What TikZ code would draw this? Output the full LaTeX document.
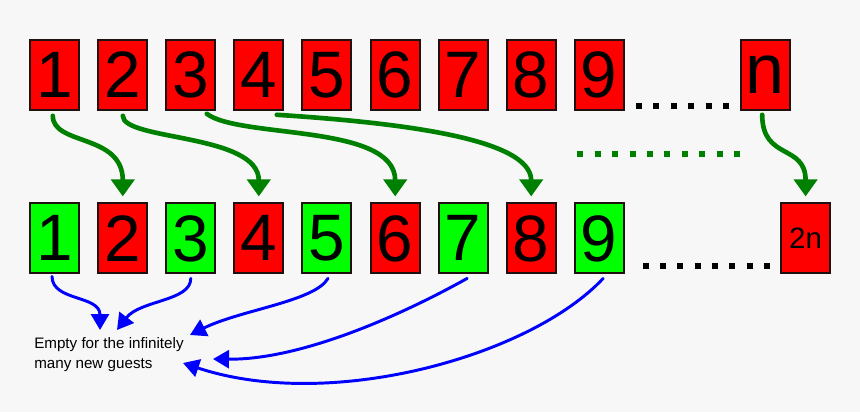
\documentclass[tikz,border=0pt]{standalone}
\usepackage{fontspec}
\setmainfont{Liberation Sans}
\usetikzlibrary{arrows.meta}

\definecolor{hintergrund}{HTML}{F7F7F7}
\definecolor{rot}{HTML}{FF0000}
\definecolor{hellgruen}{HTML}{00FF00}
\definecolor{dunkelgruen}{HTML}{008000}
\definecolor{blau}{HTML}{0000FF}
\definecolor{rand}{HTML}{201010}

\tikzset{
	zimmer/.style={draw=rand, line width=1.4pt, minimum width=1.225cm, minimum height=1.75cm, inner sep=0pt, font=\fontsize{46.7}{46.7}\selectfont},
	belegt/.style={zimmer, fill=rot},
	frei/.style={zimmer, fill=hellgruen},
	umzug/.style={dunkelgruen, line width=3.3pt, line cap=round, -{Triangle[width=0.575cm,length=0.425cm]}},
	neugast/.style={blau, line width=2.1pt, line cap=round, -{Triangle[width=0.45cm,length=0.4cm]}},
	punkte/.style={line width=0.15cm, dash pattern=on 0.15cm off 0.285cm}
}

\begin{document}
\begin{tikzpicture}
			%\draw [lightgray](0,0) grid (21,10);
			
			% Zeichnet den Hintergrund
			\fill[hintergrund] (0,0) rectangle (21.5,10.3);
			\useasboundingbox (0,0) rectangle (21.5,10.3);
			
			% Zeichnet die obere Reihe (alle Zimmer belegt)
			\node[belegt] (o1) at (1.36,8.43) {1};
			\node[belegt] (o2) at (3.07,8.43) {2};
			\node[belegt] (o3) at (4.77,8.43) {3};
			\node[belegt] (o4) at (6.47,8.43) {4};
			\node[belegt] (o5) at (8.17,8.43) {5};
			\node[belegt] (o6) at (9.88,8.43) {6};
			\node[belegt] (o7) at (11.58,8.43) {7};
			\node[belegt] (o8) at (13.28,8.43) {8};
			\node[belegt] (o9) at (14.98,8.43) {9};
			\node[belegt][font=\fontsize{49.8}{49.8}\selectfont] (on) at (19.13,8.43) {n};
			
			% Zeichnet die untere Reihe (ungerade Zimmer frei)
			\node[frei] (u1) at (1.36,4.34) {1};
			\node[belegt] (u2) at (3.07,4.34) {2};
			\node[frei] (u3) at (4.77,4.34) {3};
			\node[belegt] (u4) at (6.47,4.34) {4};
			\node[frei] (u5) at (8.17,4.34) {5};
			\node[belegt] (u6) at (9.88,4.34) {6};
			\node[frei] (u7) at (11.58,4.34) {7};
			\node[belegt] (u8) at (13.28,4.34) {8};
			\node[frei] (u9) at (14.98,4.34) {9};
			\node[belegt][font=\fontsize{21}{21}\selectfont] (u2n) at (20.14,4.34) {2n};
			
			% Zeichnet die Punkte zwischen den Zimmern
			\draw[punkte] (15.9,7.66) -- (18.23,7.66);
			\draw[punkte][dunkelgruen][dash pattern=on 0.15cm off 0.286cm] (14.43,6.46) -- (18.5,6.46);
			\draw[punkte][dash pattern=on 0.15cm off 0.2825cm] (16.07,3.64) -- (19.25,3.64);
			
			% Schreibt den Text fuer die neuen Gaeste
			\node[anchor=base west, align=left, inner sep=0pt, font=\fontsize{10.8}{14.2}\selectfont] (gaeste) at (0.85,1.1) {Empty for the infinitely\\many new guests};
			\coordinate (z1) at (2.5,2.05);
			\coordinate (z2) at (2.925,2.05);
			\coordinate (z3) at (4.75,1.925);
			\coordinate (z4) at (5.325,1.325);
			\coordinate (z5) at (4.575,1.225);
			
			% Zeichnet die gruenen Pfeile (Gast aus Zimmer k zieht nach Zimmer 2k)
			\draw[umzug] ([xshift=-0.04cm,yshift=-0.125cm]o1.south) .. controls +(0,-0.75) and +(0,1.575) .. ([yshift=0.15cm]u2.north);
			\draw[umzug] ([yshift=-0.125cm]o2.south) .. controls +(0,-0.625) and +(0,1.575) .. ([yshift=0.15cm]u4.north);
			\draw[umzug] ([xshift=0.4cm,yshift=-0.075cm]o3.south) .. controls +(0.825,-0.625) and +(0,1.825) .. ([yshift=0.15cm]u6.north);
			\draw[umzug] ([xshift=0.45cm,yshift=-0.1cm]o4.south) .. controls +(3.075,-0.2) and +(0,1.45) .. ([yshift=0.15cm]u8.north);
			\draw[umzug] ([xshift=-0.075cm,yshift=-0.1cm]on.south) .. controls +(0,-1.15) and +(0,1.325) .. ([yshift=0.15cm]u2n.north);
			
			% Zeichnet die blauen Pfeile (freie Zimmer fuer neue Gaeste)
			\draw[neugast] ([xshift=-0.06cm,yshift=-0.05cm]u1.south) .. controls +(0,-0.625) and +(0,0.875) .. (z1);
			\draw[neugast] ([yshift=-0.1cm]u3.south) .. controls +(0,-0.575) and +(0.575,0.75) .. (z2);
			\draw[neugast] ([xshift=0.03cm,yshift=-0.1cm]u5.south) .. controls +(-0.325,-0.575) and +(1.25,0.625) .. (z3);
			\draw[neugast] ([xshift=0.1cm,yshift=-0.1cm]u7.south) .. controls +(-1.7,-0.95) and +(2.175,-0.025) .. (z4);
			\draw[neugast] ([xshift=0.1cm,yshift=-0.1cm]u9.south) .. controls +(-1.825,-1.95) and +(3.675,-1.225) .. (z5);
\end{tikzpicture}
\end{document}
